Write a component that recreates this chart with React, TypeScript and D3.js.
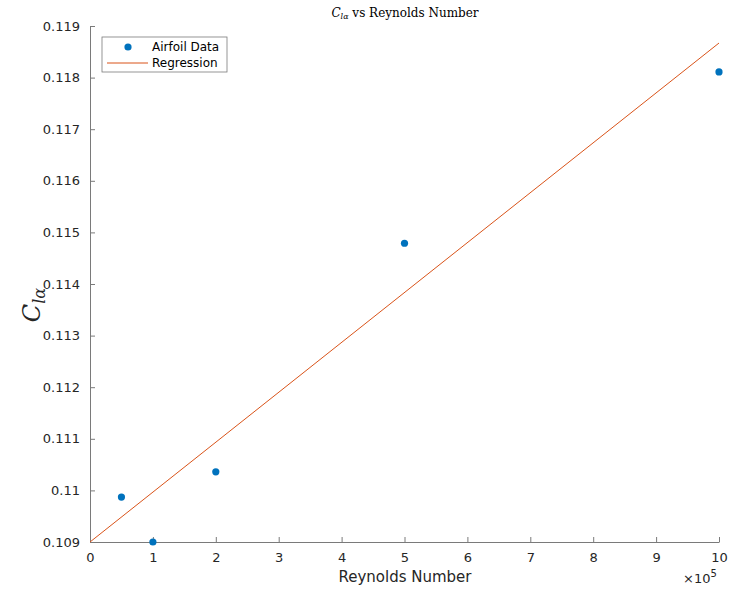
import { useEffect, useRef } from "react";
import * as d3 from "d3";

const width = 729;
const height = 589;
const marginLeft = 90;
const marginRight = 10;
const marginTop = 26;
const marginBottom = 47;

// Reynolds number in units of 1e5
const reynolds = [0.5, 1, 2, 5, 10];
const clAlpha = [0.10987, 0.109, 0.11036, 0.11479, 0.11811];
const regressionX = [0, 10];
const regressionY = [0.109, 0.11867];
const xTicks = [0, 1, 2, 3, 4, 5, 6, 7, 8, 9, 10];
const yTicks = [0.109, 0.11, 0.111, 0.112, 0.113, 0.114, 0.115, 0.116, 0.117, 0.118, 0.119];
const legendLabels = ["Airfoil Data", "Regression"];

const dataColor = "#0072BD";
const regColor = "#D95319";
const axisColor = "#7a7a7a";
const textColor = "#262626";

const App = () => {
  const ref = useRef<SVGGElement>(null);

  const xScale = d3.scaleLinear().domain([0, 10]).range([marginLeft, width - marginRight]);
  const yScale = d3.scaleLinear().domain([0.109, 0.119]).range([height - marginBottom, marginTop]);

  useEffect(() => {
    const svg = d3.select(ref.current);
    svg.selectAll("*").remove();

    // axes, ticks pointing inward
    const xAxis = d3.axisBottom(xScale).tickValues(xTicks).tickSizeInner(-5).tickSizeOuter(0).tickPadding(10).tickFormat(d3.format("d"));
    const yAxis = d3.axisLeft(yScale).tickValues(yTicks).tickSizeInner(-5).tickSizeOuter(0).tickPadding(10).tickFormat((d) => d3.format("")(+(+d).toFixed(3)));

    const gx = svg.append("g").attr("transform", `translate(0,${height - marginBottom})`).call(xAxis);
    const gy = svg.append("g").attr("transform", `translate(${marginLeft},0)`).call(yAxis);
    [gx, gy].forEach((g) => {
      g.select(".domain").attr("stroke", axisColor);
      g.selectAll(".tick line").attr("stroke", axisColor);
      g.selectAll("text")
        .attr("fill", textColor)
        .attr("font-family", "DejaVu Sans")
        .attr("font-size", 13);
    });
    gx.selectAll("text").attr("dy", "0.75em");

    // regression line
    const line = d3.line<number>().x((d) => xScale(d)).y((_, i) => yScale(regressionY[i]));
    svg.append("path").datum(regressionX).attr("d", line).attr("fill", "none").attr("stroke", regColor).attr("stroke-width", 1);

    // data points
    svg
      .append("g")
      .selectAll("circle")
      .data(reynolds)
      .join("circle")
      .attr("cx", (d) => xScale(d))
      .attr("cy", (_, i) => yScale(clAlpha[i]))
      .attr("r", 3.6)
      .attr("fill", dataColor);

    // legend
    const lg = svg.append("g").attr("transform", "translate(102,37)");
    lg.append("rect").attr("width", 125).attr("height", 35).attr("fill", "white").attr("stroke", axisColor).attr("stroke-width", 0.8);
    lg.append("circle").attr("cx", 26).attr("cy", 10).attr("r", 3.6).attr("fill", dataColor);
    lg.append("line").attr("x1", 5).attr("x2", 46).attr("y1", 26).attr("y2", 26).attr("stroke", regColor);
    lg.selectAll("text.lab")
      .data(legendLabels)
      .join("text")
      .attr("x", 50)
      .attr("y", (_, i) => 14 + i * 16)
      .attr("font-family", "DejaVu Sans")
      .attr("font-size", 12)
      .attr("fill", "#000")
      .text((d) => d);
  }, []);

  return (
    <svg width={width} height={height} style={{ display: "block", position: "absolute", left: 0, top: 0, background: "white" }}>
      <g ref={ref} />
      <text x={405} y={17} textAnchor="middle" fontFamily="DejaVu Serif" fontSize={12} fill="#000">
        <tspan fontStyle="italic">C</tspan>
        <tspan fontStyle="italic" fontSize={8} dy={2}>lα</tspan>
        <tspan dy={-2}> vs Reynolds Number</tspan>
      </text>
      <text x={405} y={582} textAnchor="middle" fontFamily="DejaVu Sans" fontSize={15} fill={textColor}>
        Reynolds Number
      </text>
      <text x={683} y={583} fontFamily="DejaVu Sans" fontSize={13} fill={textColor}>
        ×10<tspan fontSize={10} dy={-6}>5</tspan>
      </text>
      <text transform="translate(40,305) rotate(-90)" textAnchor="middle" fontFamily="DejaVu Serif" fontSize={24} fill={textColor}>
        <tspan fontStyle="italic">C</tspan>
        <tspan fontStyle="italic" fontSize={16} dy={5}>lα</tspan>
      </text>
    </svg>
  );
};

export default App;
